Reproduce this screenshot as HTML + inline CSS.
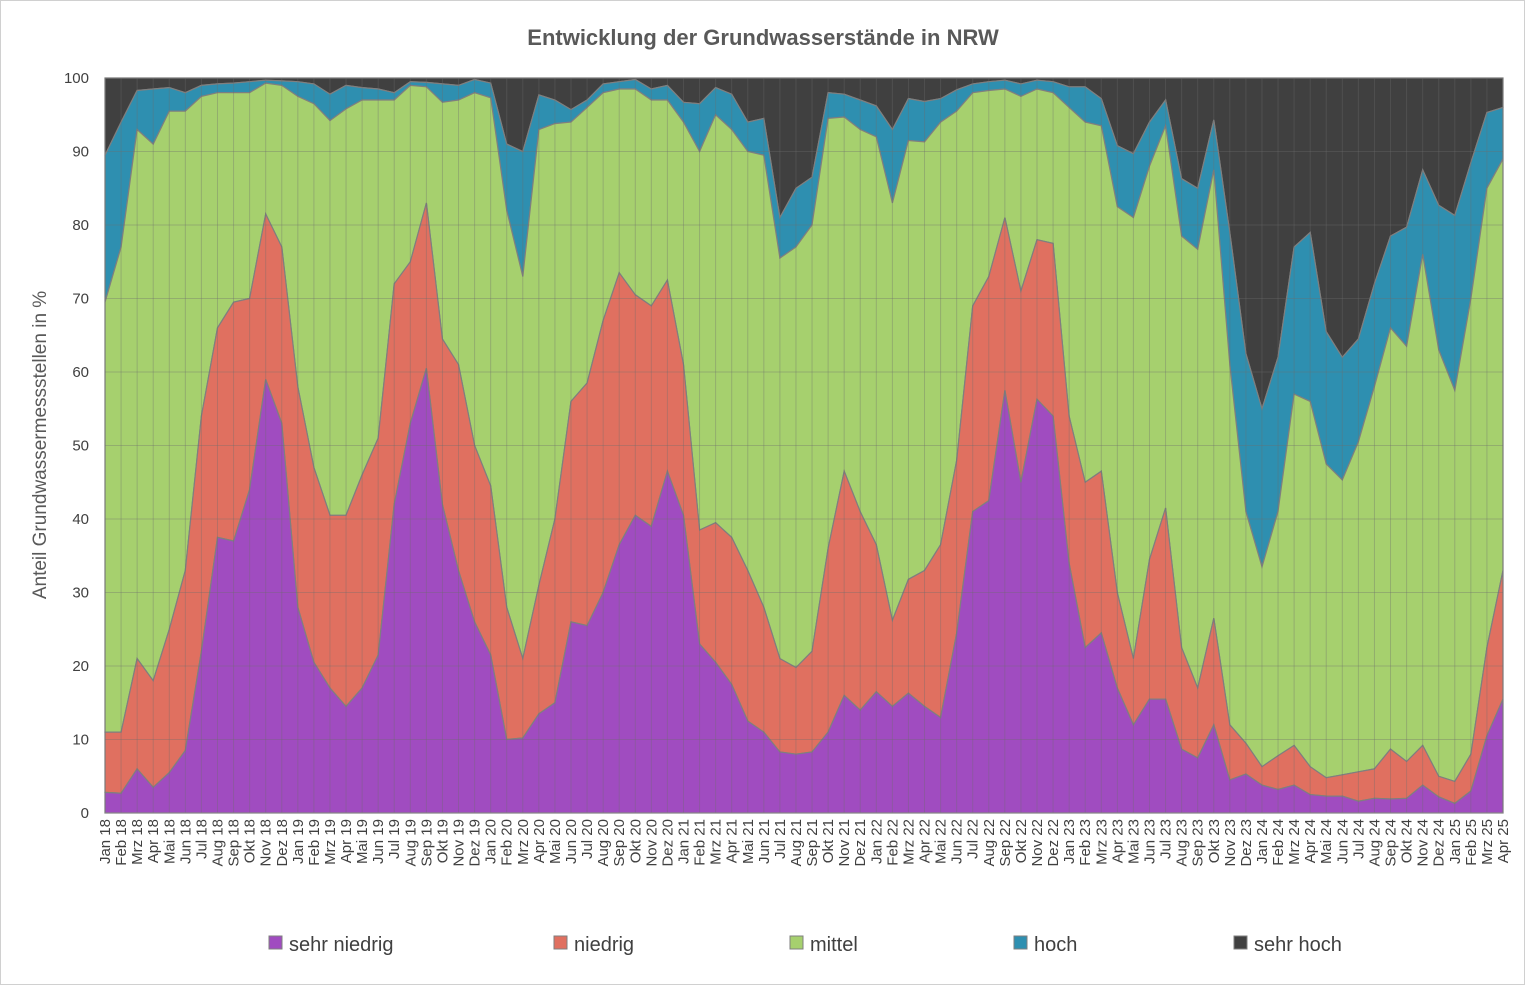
<!DOCTYPE html>
<html><head><meta charset="utf-8">
<style>
body{margin:0;background:#fff;}
#c{position:absolute;left:0;top:0;width:1523px;height:983px;border:1px solid #d0d0d0;background:#fff;}
text{font-family:"Liberation Sans",sans-serif;}
</style></head>
<body>
<div id="c"><svg id="s" width="1525" height="985" xmlns="http://www.w3.org/2000/svg"></svg></div>
<script>
const L=["Jan 18","Feb 18","Mrz 18","Apr 18","Mai 18","Jun 18","Jul 18","Aug 18","Sep 18","Okt 18","Nov 18","Dez 18",
"Jan 19","Feb 19","Mrz 19","Apr 19","Mai 19","Jun 19","Jul 19","Aug 19","Sep 19","Okt 19","Nov 19","Dez 19",
"Jan 20","Feb 20","Mrz 20","Apr 20","Mai 20","Jun 20","Jul 20","Aug 20","Sep 20","Okt 20","Nov 20","Dez 20",
"Jan 21","Feb 21","Mrz 21","Apr 21","Mai 21","Jun 21","Jul 21","Aug 21","Sep 21","Okt 21","Nov 21","Dez 21",
"Jan 22","Feb 22","Mrz 22","Apr 22","Mai 22","Jun 22","Jul 22","Aug 22","Sep 22","Okt 22","Nov 22","Dez 22",
"Jan 23","Feb 23","Mrz 23","Apr 23","Mai 23","Jun 23","Jul 23","Aug 23","Sep 23","Okt 23","Nov 23","Dez 23",
"Jan 24","Feb 24","Mrz 24","Apr 24","Mai 24","Jun 24","Jul 24","Aug 24","Sep 24","Okt 24","Nov 24","Dez 24",
"Jan 25","Feb 25","Mrz 25","Apr 25"];
const D=[[2.8,11,69.5,89.5],[2.7,11,77,94],[6,21,93,98.3],[3.5,18,91,98.5],[5.5,25,95.5,98.7],[8.5,33,95.5,98],[22,54,97.5,99],[37.5,66,98,99.2],[37,69.5,98,99.3],[44,70,98,99.5],[59,81.5,99.3,99.7],[53,77,99,99.6],
[28,58,97.5,99.5],[20.5,47,96.5,99.2],[17,40.5,94.2,97.8],[14.5,40.5,95.8,99],[17,46,97,98.7],[21.5,51,97,98.5],[42,72,97,98],[53,75,99,99.5],[60.5,83,98.8,99.4],[42,64.5,96.7,99.2],[33,61,97,99],[26,50,98,99.8],
[21.5,44.5,97.3,99.3],[10,28,82,91],[10.2,21,73,90],[13.5,31,93,97.7],[15,40,93.8,97],[26,56,94,95.7],[25.5,58.5,96,97],[30,67,98,99.2],[36.5,73.5,98.5,99.5],[40.5,70.5,98.5,99.8],[39,69,97,98.5],[46.5,72.5,97,99],
[40.5,61,94,96.7],[23,38.5,90,96.5],[20.5,39.5,95,98.7],[17.5,37.5,93,97.8],[12.5,33,90,94],[11,28,89.5,94.5],[8.3,21,75.5,81],[8,19.8,77,85],[8.3,22,80,86.5],[11,36,94.5,98],[16,46.5,94.7,97.8],[14,41,93,97],
[16.5,36.5,92,96.2],[14.5,26.2,83,93],[16.3,31.8,91.5,97.2],[14.5,33,91.3,96.8],[13,36.5,94,97.2],[24.5,48,95.5,98.4],[41,69,98,99.2],[42.5,73,98.3,99.5],[57.5,81,98.5,99.7],[45,71,97.5,99.2],[56.3,78,98.5,99.7],[54,77.5,98,99.5],
[34,54,96,98.8],[22.5,45,94,98.8],[24.5,46.5,93.5,97.2],[17,30,82.5,90.8],[12,21,81,89.7],[15.5,34.5,88,94],[15.5,41.5,93.5,97],[8.7,22.5,78.5,86.3],[7.5,17,76.7,85],[12,26.5,87.5,94.3],[4.5,12,61,79],[5.3,9.5,41,62.5],
[3.8,6.3,33.5,55],[3.2,7.8,41,62],[3.8,9.2,57,77],[2.5,6.3,56,79],[2.3,4.8,47.5,65.5],[2.3,5.2,45.3,62],[1.6,5.6,50.5,64.5],[2,6,58,72],[1.9,8.7,66,78.5],[2,7,63.5,79.7],[3.8,9.2,76,87.5],[2.2,5,63,82.7],
[1.3,4.3,57.5,81.3],[3,8,70,88.5],[10.5,22.5,85,95.3],[15.5,33,89,96]];
const x0=104,x1=1502,y0=812,yt=77,n=D.length,dx=(x1-x0)/(n-1);
const X=i=>x0+i*dx,Y=v=>y0-(y0-yt)*v/100;
const C=["#a04cc0","#e07060","#a6d06e","#2e8fb0","#404040"];
let h='';
for(let k=4;k>=0;k--){
  let pts=[];
  for(let i=0;i<n;i++){const v=k==4?100:D[i][k];pts.push(X(i).toFixed(1)+','+Y(v).toFixed(1));}
  for(let i=n-1;i>=0;i--){const v=k==0?0:D[i][k-1];pts.push(X(i).toFixed(1)+','+Y(v).toFixed(1));}
  h+=`<polygon points="${pts.join(' ')}" fill="${C[k]}" stroke="#7f7f7f" stroke-width="1.2"/>`;
}
for(let i=0;i<n;i++)h+=`<line x1="${X(i)}" y1="${yt}" x2="${X(i)}" y2="${y0}" stroke="rgba(110,110,110,0.35)" stroke-width="1"/>`;
for(let v=0;v<=100;v+=10){h+=`<line x1="${x0}" y1="${Y(v)}" x2="${x1}" y2="${Y(v)}" stroke="rgba(110,110,110,0.35)" stroke-width="1"/>`;
 h+=`<text x="88" y="${Y(v)+5}" font-size="15" text-anchor="end" fill="#404040">${v}</text>`;}
h+=`<line x1="${x0}" y1="${y0}" x2="${x1}" y2="${y0}" stroke="#888" stroke-width="1"/>`;
for(let i=0;i<n;i++)h+=`<text transform="translate(${X(i)+5},818) rotate(-90)" font-size="15" text-anchor="end" fill="#404040">${L[i]}</text>`;
h+=`<text x="762" y="44" font-size="22" font-weight="bold" text-anchor="middle" fill="#595959">Entwicklung der Grundwasserstände in NRW</text>`;
h+=`<text transform="translate(45,444) rotate(-90)" font-size="19" text-anchor="middle" fill="#595959">Anteil Grundwassermessstellen in %</text>`;
const lg=[["sehr niedrig",268],["niedrig",553],["mittel",789],["hoch",1013],["sehr hoch",1233]];
lg.forEach((l,k)=>{h+=`<rect x="${l[1]}" y="935" width="13" height="13" fill="${C[k]}" stroke="#7f7f7f"/><text x="${l[1]+20}" y="950" font-size="20" fill="#404040">${l[0]}</text>`;});
document.getElementById('s').innerHTML=h;
</script>
</body></html>
